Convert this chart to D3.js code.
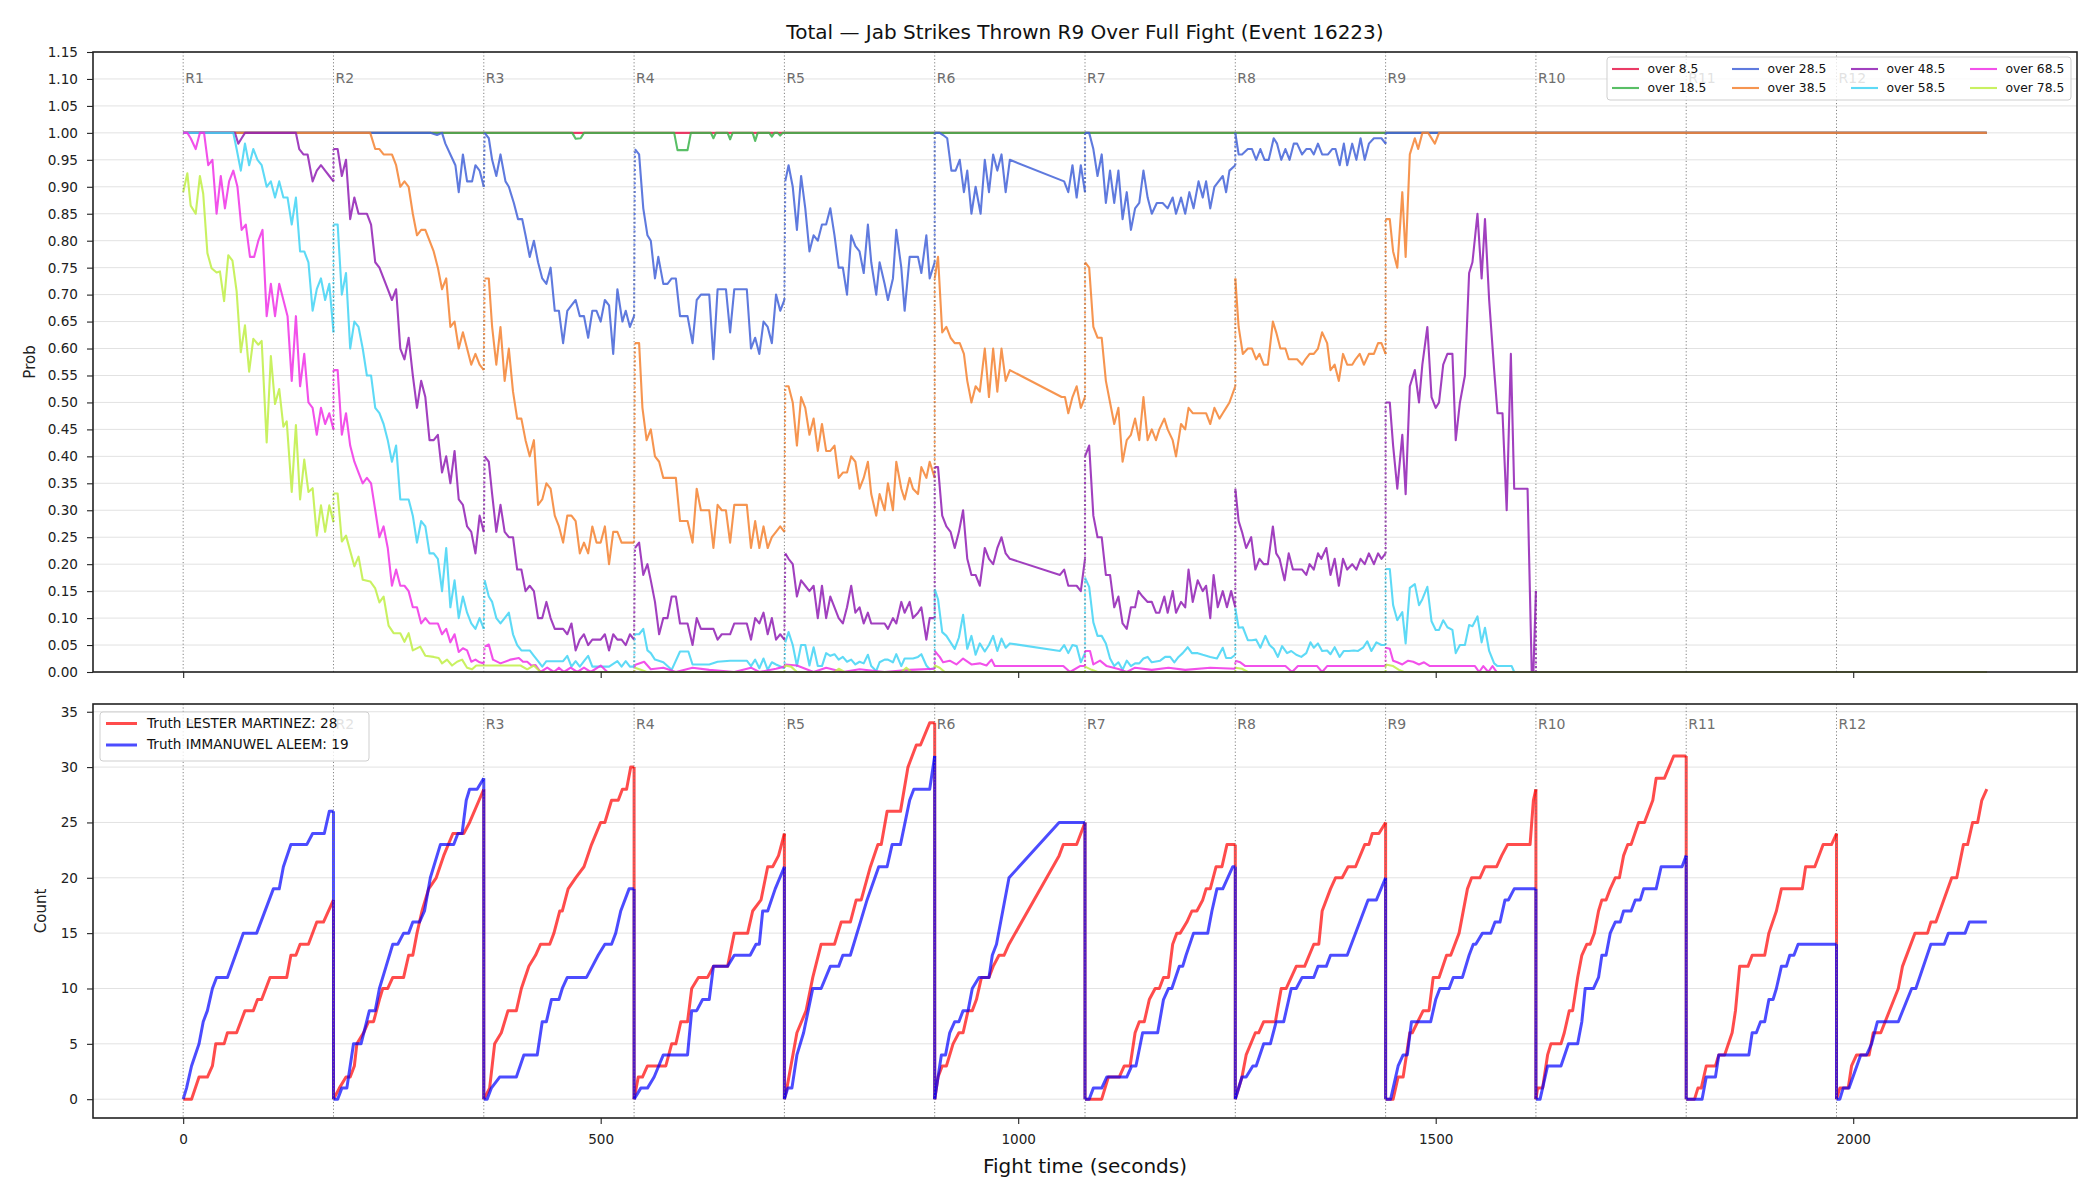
<!DOCTYPE html>
<html><head><meta charset="utf-8">
<script src="https://cdn.jsdelivr.net/npm/d3@7"></script>
<style>body{margin:0;background:#fff;} svg{display:block;font-family:"DejaVu Sans",sans-serif;}</style>
</head><body><svg id="chart" width="2100" height="1200"></svg>
<script>
// ---------------- DATA ----------------
const chartTitle = "Total \u2014 Jab Strikes Thrown R9 Over Full Fight (Event 16223)";
const roundLabels = ["R1","R2","R3","R4","R5","R6","R7","R8","R9","R10","R11","R12"];
const roundStarts = [0,180,360,540,720,900,1080,1260,1440,1620,1800,1980];
const xTicks = [0,500,1000,1500,2000];
const probTicks = [0,0.05,0.10,0.15,0.20,0.25,0.30,0.35,0.40,0.45,0.50,0.55,0.60,0.65,0.70,0.75,0.80,0.85,0.90,0.95,1.00,1.05,1.10,1.15];
const countTicks = [0,5,10,15,20,25,30,35];
const seriesNames = ["over 8.5","over 18.5","over 28.5","over 38.5","over 48.5","over 58.5","over 68.5","over 78.5"];
const seriesColors = ["#e6194b","#3cb44b","#4363d8","#f58231","#911eb4","#42d4f4","#f032e6","#bfef45"];

const over8_5 = [[0,1],[2160,1]];
const over18_5 = [[0,1],[466,1],[470,0.989],[476,0.99],[480,1],[588,1],[592,0.968],[604,0.968],[608,1],[632,1],[635,0.99],[638,1],[652,1],[655,0.988],[658,1],[682,1],[685,0.985],[688,1],[702,1],[705,0.993],[708,1],[712,1],[715,0.995],[718,1],[2160,1]];
const over28_5 = [[0,1],[296,1],[304,0.996],[310,1],[314,0.98],[320,0.96],[326,0.94],[330,0.89],[335,0.96],[340,0.91],[346,0.91],[350,0.94],[355,0.93],[360,0.9],
[361,1],[366,0.99],[370,0.95],[375,0.92],[380,0.96],[386,0.91],[390,0.9],[396,0.87],[401,0.84],[406,0.84],[410,0.81],[415,0.77],[420,0.8],[425,0.76],[430,0.73],[435,0.72],[440,0.75],[445,0.67],[450,0.67],[455,0.61],[460,0.67],[465,0.68],[470,0.69],[475,0.66],[480,0.66],[485,0.62],[490,0.67],[495,0.67],[500,0.65],[505,0.69],[510,0.68],[515,0.59],[520,0.71],[526,0.65],[530,0.67],[535,0.64],[540,0.66],
[541,0.97],[546,0.96],[551,0.86],[556,0.81],[560,0.8],[565,0.73],[569,0.77],[575,0.72],[580,0.72],[585,0.73],[590,0.73],[595,0.66],[604,0.66],[610,0.61],[615,0.69],[620,0.7],[630,0.7],[635,0.58],[640,0.71],[645,0.71],[650,0.71],[655,0.63],[660,0.71],[675,0.71],[680,0.6],[685,0.62],[690,0.59],[695,0.65],[700,0.64],[705,0.61],[710,0.7],[715,0.67],[720,0.69],
[721,0.91],[725,0.94],[730,0.9],[735,0.82],[740,0.92],[745,0.86],[750,0.78],[755,0.81],[760,0.8],[765,0.83],[770,0.83],[775,0.86],[780,0.81],[785,0.75],[790,0.75],[795,0.7],[800,0.81],[805,0.79],[810,0.78],[815,0.74],[820,0.83],[824,0.76],[830,0.7],[834,0.76],[840,0.72],[844,0.69],[850,0.73],[854,0.82],[860,0.75],[864,0.67],[870,0.77],[874,0.77],[880,0.77],[884,0.74],[890,0.81],[894,0.73],[900,0.76],
[900,1],[906,1],[910,0.996],[915,0.99],[920,0.93],[925,0.93],[930,0.95],[935,0.89],[939,0.93],[944,0.85],[949,0.9],[955,0.85],[960,0.95],[965,0.89],[970,0.96],[975,0.93],[980,0.96],[985,0.89],[990,0.95],[1055,0.91],[1060,0.89],[1065,0.94],[1070,0.88],[1075,0.94],[1080,0.89],
[1080,1],[1085,1],[1090,0.97],[1095,0.92],[1100,0.96],[1105,0.87],[1110,0.93],[1115,0.87],[1120,0.93],[1125,0.84],[1130,0.89],[1135,0.82],[1140,0.86],[1145,0.87],[1150,0.93],[1155,0.88],[1160,0.85],[1166,0.87],[1173,0.87],[1179,0.86],[1185,0.88],[1189,0.85],[1195,0.88],[1200,0.85],[1205,0.89],[1210,0.86],[1216,0.91],[1221,0.88],[1225,0.91],[1230,0.86],[1235,0.9],[1245,0.92],[1249,0.89],[1253,0.93],[1260,0.94],
[1260,1],[1264,0.96],[1268,0.96],[1275,0.97],[1280,0.97],[1285,0.95],[1290,0.97],[1295,0.95],[1300,0.95],[1306,0.99],[1310,0.98],[1315,0.95],[1320,0.97],[1325,0.95],[1330,0.98],[1334,0.98],[1340,0.96],[1345,0.97],[1350,0.97],[1354,0.96],[1359,0.98],[1364,0.96],[1371,0.96],[1376,0.97],[1380,0.97],[1385,0.94],[1390,0.98],[1394,0.94],[1400,0.98],[1405,0.95],[1410,0.99],[1415,0.95],[1420,0.98],[1426,0.99],[1431,0.99],[1435,0.99],[1440,0.98],
[1440,1],[2160,1]];
const over38_5 = [[0,1],[224,1],[230,0.97],[235,0.97],[240,0.96],[245,0.96],[250,0.96],[255,0.94],[260,0.9],[265,0.91],[270,0.9],[275,0.85],[280,0.81],[285,0.82],[290,0.82],[295,0.8],[300,0.78],[305,0.75],[310,0.71],[315,0.73],[320,0.64],[325,0.65],[330,0.6],[335,0.63],[340,0.6],[345,0.57],[350,0.59],[355,0.57],[360,0.56],
[361,0.73],[366,0.73],[370,0.64],[375,0.57],[380,0.64],[385,0.54],[390,0.6],[395,0.52],[400,0.47],[405,0.47],[410,0.43],[415,0.4],[420,0.43],[425,0.31],[430,0.32],[435,0.35],[440,0.34],[445,0.29],[450,0.27],[455,0.24],[460,0.29],[465,0.29],[470,0.28],[475,0.22],[480,0.24],[485,0.22],[490,0.27],[495,0.24],[500,0.24],[505,0.27],[510,0.2],[515,0.26],[520,0.26],[525,0.24],[530,0.24],[535,0.24],[540,0.24],
[541,0.61],[546,0.61],[550,0.49],[555,0.43],[560,0.45],[565,0.4],[570,0.39],[575,0.36],[580,0.36],[585,0.36],[590,0.36],[595,0.28],[604,0.28],[610,0.24],[615,0.34],[620,0.3],[630,0.3],[635,0.23],[640,0.31],[645,0.3],[650,0.3],[655,0.24],[660,0.31],[675,0.31],[680,0.23],[685,0.28],[690,0.23],[695,0.27],[700,0.23],[705,0.25],[710,0.26],[715,0.27],[720,0.26],
[721,0.53],[725,0.53],[730,0.5],[735,0.42],[740,0.51],[745,0.49],[750,0.44],[755,0.47],[760,0.41],[765,0.46],[770,0.41],[775,0.41],[780,0.42],[785,0.36],[790,0.37],[795,0.37],[800,0.4],[805,0.39],[810,0.34],[815,0.36],[820,0.39],[824,0.33],[830,0.29],[834,0.33],[840,0.3],[844,0.35],[850,0.3],[854,0.39],[860,0.34],[864,0.32],[870,0.36],[874,0.34],[880,0.33],[884,0.38],[890,0.36],[894,0.39],[900,0.36],
[900,0.73],[904,0.77],[909,0.63],[914,0.64],[919,0.62],[924,0.61],[930,0.61],[935,0.59],[939,0.54],[944,0.5],[949,0.53],[954,0.52],[960,0.6],[965,0.51],[970,0.6],[975,0.52],[980,0.6],[985,0.54],[990,0.56],[1052,0.51],[1056,0.51],[1060,0.48],[1065,0.51],[1070,0.53],[1075,0.49],[1080,0.51],
[1080,0.76],[1085,0.75],[1090,0.64],[1095,0.62],[1100,0.62],[1105,0.54],[1110,0.5],[1115,0.46],[1120,0.49],[1125,0.39],[1130,0.43],[1135,0.44],[1140,0.47],[1145,0.43],[1150,0.51],[1155,0.43],[1160,0.45],[1165,0.43],[1169,0.45],[1175,0.47],[1179,0.45],[1185,0.43],[1189,0.4],[1195,0.46],[1200,0.45],[1204,0.49],[1209,0.48],[1215,0.48],[1225,0.48],[1230,0.46],[1235,0.49],[1241,0.47],[1245,0.48],[1249,0.49],[1253,0.5],[1260,0.53],
[1260,0.73],[1264,0.64],[1269,0.59],[1275,0.6],[1280,0.6],[1285,0.58],[1289,0.59],[1294,0.57],[1299,0.57],[1305,0.65],[1309,0.63],[1314,0.6],[1320,0.6],[1324,0.58],[1329,0.58],[1334,0.58],[1340,0.57],[1344,0.58],[1349,0.59],[1354,0.59],[1359,0.6],[1364,0.63],[1370,0.61],[1374,0.56],[1379,0.57],[1384,0.54],[1389,0.59],[1394,0.57],[1400,0.57],[1404,0.58],[1409,0.59],[1414,0.57],[1420,0.59],[1426,0.59],[1431,0.61],[1435,0.61],[1440,0.59],
[1440,0.84],[1445,0.84],[1449,0.78],[1454,0.75],[1460,0.89],[1464,0.77],[1469,0.96],[1475,0.99],[1479,0.97],[1484,1],[1491,1],[1499,0.98],[1504,1],[2160,1]];
const over48_5 = [[0,1],[62,1],[66,0.98],[70,0.99],[74,1],[135,1],[139,0.97],[144,0.96],[149,0.96],[155,0.91],[160,0.93],[165,0.94],[170,0.93],[175,0.92],[180,0.91],
[180,0.97],[185,0.97],[190,0.92],[195,0.95],[200,0.84],[205,0.88],[210,0.85],[215,0.85],[220,0.85],[225,0.83],[230,0.76],[235,0.75],[240,0.73],[245,0.71],[250,0.69],[255,0.71],[260,0.6],[265,0.58],[270,0.62],[275,0.55],[280,0.49],[285,0.54],[290,0.51],[295,0.43],[300,0.43],[305,0.44],[310,0.37],[315,0.4],[320,0.35],[325,0.41],[330,0.32],[335,0.31],[340,0.27],[345,0.26],[350,0.22],[355,0.29],[360,0.26],
[361,0.4],[366,0.39],[370,0.33],[375,0.26],[380,0.31],[385,0.26],[390,0.25],[395,0.25],[400,0.19],[405,0.19],[410,0.15],[415,0.16],[420,0.15],[425,0.1],[430,0.1],[435,0.13],[440,0.1],[445,0.08],[450,0.08],[455,0.08],[460,0.07],[465,0.09],[470,0.04],[475,0.06],[480,0.07],[485,0.05],[490,0.06],[500,0.06],[505,0.07],[510,0.04],[515,0.07],[520,0.06],[525,0.06],[530,0.05],[535,0.07],[540,0.06],
[541,0.23],[546,0.24],[551,0.18],[556,0.2],[560,0.17],[565,0.13],[570,0.07],[575,0.1],[580,0.1],[585,0.14],[590,0.14],[595,0.09],[604,0.09],[610,0.05],[615,0.1],[620,0.08],[635,0.08],[640,0.06],[645,0.07],[655,0.07],[660,0.09],[675,0.09],[680,0.06],[685,0.1],[690,0.09],[695,0.11],[700,0.07],[705,0.1],[710,0.06],[715,0.07],[720,0.06],
[721,0.22],[725,0.21],[730,0.2],[735,0.14],[740,0.17],[745,0.16],[750,0.15],[755,0.16],[760,0.1],[765,0.16],[770,0.1],[775,0.14],[780,0.12],[785,0.1],[790,0.09],[795,0.12],[800,0.16],[805,0.11],[810,0.12],[815,0.09],[820,0.11],[824,0.09],[830,0.09],[834,0.09],[840,0.09],[844,0.08],[850,0.1],[854,0.09],[860,0.13],[864,0.11],[870,0.13],[874,0.1],[880,0.11],[884,0.12],[890,0.06],[894,0.1],[900,0.1],
[900,0.38],[904,0.38],[909,0.29],[914,0.27],[919,0.26],[924,0.23],[929,0.26],[934,0.3],[939,0.21],[944,0.18],[949,0.18],[954,0.16],[960,0.23],[965,0.21],[970,0.2],[975,0.23],[980,0.25],[985,0.22],[990,0.21],[1050,0.18],[1055,0.19],[1060,0.16],[1065,0.16],[1070,0.16],[1075,0.15],[1080,0.21],
[1080,0.4],[1085,0.42],[1090,0.29],[1095,0.25],[1100,0.25],[1105,0.18],[1110,0.18],[1115,0.12],[1120,0.14],[1125,0.09],[1130,0.08],[1135,0.12],[1140,0.12],[1144,0.15],[1149,0.14],[1155,0.13],[1160,0.13],[1165,0.11],[1169,0.11],[1175,0.14],[1179,0.11],[1185,0.15],[1189,0.11],[1195,0.13],[1200,0.12],[1204,0.19],[1209,0.13],[1215,0.17],[1221,0.15],[1225,0.16],[1230,0.1],[1234,0.18],[1239,0.12],[1245,0.15],[1250,0.12],[1255,0.15],[1260,0.12],
[1260,0.34],[1264,0.28],[1268,0.26],[1273,0.23],[1279,0.25],[1284,0.19],[1289,0.21],[1294,0.2],[1299,0.2],[1305,0.27],[1309,0.22],[1313,0.21],[1319,0.17],[1324,0.22],[1329,0.19],[1334,0.19],[1340,0.19],[1345,0.18],[1349,0.2],[1354,0.19],[1359,0.22],[1363,0.21],[1369,0.23],[1374,0.18],[1379,0.21],[1384,0.16],[1389,0.21],[1394,0.19],[1400,0.2],[1405,0.19],[1410,0.21],[1415,0.2],[1420,0.22],[1426,0.2],[1431,0.22],[1435,0.21],[1440,0.22],
[1440,0.5],[1445,0.5],[1449,0.42],[1454,0.34],[1460,0.44],[1464,0.33],[1469,0.53],[1475,0.56],[1480,0.5],[1484,0.57],[1490,0.64],[1495,0.51],[1500,0.49],[1504,0.5],[1509,0.57],[1514,0.59],[1520,0.59],[1524,0.43],[1529,0.5],[1535,0.55],[1540,0.74],[1544,0.76],[1550,0.85],[1555,0.73],[1559,0.84],[1564,0.69],[1570,0.56],[1574,0.48],[1580,0.48],[1585,0.3],[1590,0.59],[1594,0.34],[1610,0.34],[1615,0],[1617,0],[1620,0.15],[1620,0],[2160,0]];
const over58_5 = [[0,1],[60,1],[64,0.97],[69,0.93],[74,0.98],[79,0.94],[84,0.97],[89,0.95],[94,0.94],[100,0.9],[105,0.91],[110,0.88],[115,0.91],[120,0.88],[125,0.88],[130,0.83],[135,0.88],[140,0.78],[145,0.78],[150,0.76],[155,0.67],[160,0.71],[165,0.73],[170,0.69],[175,0.72],[180,0.63],
[180,0.83],[185,0.83],[190,0.7],[195,0.74],[200,0.6],[205,0.65],[210,0.64],[215,0.6],[220,0.55],[225,0.55],[230,0.49],[235,0.48],[240,0.46],[245,0.43],[250,0.39],[255,0.42],[260,0.32],[265,0.32],[270,0.32],[275,0.29],[280,0.24],[285,0.28],[290,0.27],[295,0.22],[300,0.22],[305,0.21],[310,0.15],[315,0.23],[320,0.12],[325,0.17],[330,0.1],[335,0.14],[340,0.11],[345,0.09],[350,0.08],[355,0.1],[360,0.08],
[361,0.17],[366,0.14],[370,0.13],[375,0.1],[380,0.09],[385,0.1],[390,0.11],[395,0.07],[400,0.05],[405,0.04],[410,0.04],[415,0.04],[420,0.03],[425,0.02],[430,0.01],[435,0.02],[440,0.02],[445,0.02],[450,0.02],[455,0.02],[460,0.03],[465,0.01],[470,0.02],[475,0.01],[480,0.02],[485,0.03],[490,0.01],[505,0.01],[510,0.01],[520,0.02],[525,0.01],[530,0.02],[535,0.01],[540,0.01],
[541,0.07],[546,0.07],[551,0.08],[556,0.04],[560,0.035],[565,0.023],[575,0.018],[585,0.004],[595,0.038],[605,0.038],[610,0.014],[630,0.014],[640,0.019],[655,0.021],[675,0.021],[680,0.011],[685,0.023],[690,0.007],[695,0.025],[700,0.004],[705,0.018],[710,0.014],[720,0.007],
[721,0.055],[725,0.074],[730,0.05],[735,0.011],[740,0.05],[745,0.05],[750,0.012],[755,0.046],[760,0.011],[765,0.011],[770,0.035],[775,0.03],[780,0.033],[785,0.023],[790,0.028],[795,0.019],[800,0.023],[805,0.014],[810,0.019],[815,0.016],[820,0.032],[824,0.011],[830,0.002],[834,0.018],[840,0.023],[844,0.023],[850,0.018],[854,0.033],[860,0.011],[864,0.025],[874,0.025],[880,0.028],[884,0.033],[890,0.012],[894,0.005],[900,0.007],
[900,0.154],[904,0.135],[909,0.074],[914,0.067],[919,0.055],[924,0.043],[929,0.064],[934,0.106],[939,0.043],[944,0.067],[949,0.032],[954,0.053],[960,0.038],[965,0.05],[970,0.067],[975,0.039],[980,0.062],[985,0.045],[990,0.053],[1050,0.039],[1055,0.05],[1060,0.035],[1065,0.05],[1070,0.048],[1075,0.018],[1080,0.035],
[1080,0.175],[1085,0.158],[1090,0.092],[1095,0.067],[1100,0.067],[1105,0.053],[1110,0.025],[1115,0.011],[1120,0.018],[1125,0.004],[1130,0.021],[1135,0.011],[1140,0.016],[1145,0.016],[1150,0.025],[1155,0.028],[1160,0.018],[1170,0.021],[1176,0.028],[1182,0.028],[1187,0.018],[1192,0.028],[1197,0.035],[1203,0.046],[1208,0.035],[1215,0.035],[1221,0.032],[1230,0.028],[1238,0.025],[1245,0.045],[1249,0.026],[1255,0.026],[1260,0.032],
[1260,0.118],[1264,0.082],[1269,0.083],[1275,0.059],[1280,0.059],[1285,0.06],[1290,0.045],[1296,0.067],[1301,0.05],[1306,0.043],[1311,0.028],[1316,0.048],[1322,0.035],[1327,0.039],[1333,0.032],[1339,0.028],[1345,0.035],[1350,0.055],[1354,0.045],[1359,0.053],[1364,0.039],[1370,0.04],[1374,0.033],[1379,0.046],[1385,0.028],[1390,0.039],[1396,0.039],[1402,0.04],[1407,0.039],[1413,0.045],[1418,0.057],[1423,0.039],[1429,0.055],[1435,0.05],[1440,0.05],
[1440,0.191],[1445,0.191],[1449,0.124],[1454,0.096],[1460,0.111],[1464,0.053],[1469,0.156],[1475,0.163],[1480,0.124],[1484,0.135],[1490,0.158],[1495,0.094],[1500,0.078],[1504,0.078],[1509,0.096],[1514,0.083],[1520,0.078],[1524,0.035],[1529,0.05],[1535,0.05],[1540,0.087],[1544,0.085],[1550,0.103],[1555,0.055],[1559,0.082],[1564,0.039],[1570,0.016],[1574,0.011],[1591,0.011],[1594,0],[2160,0]];
const over68_5 = [[0,1],[5,1],[9,0.99],[15,0.97],[20,1],[25,1],[30,0.94],[35,0.95],[40,0.85],[45,0.92],[50,0.86],[55,0.91],[60,0.93],[65,0.9],[70,0.82],[75,0.83],[80,0.77],[85,0.77],[90,0.8],[95,0.82],[100,0.66],[105,0.72],[110,0.66],[115,0.72],[120,0.69],[125,0.66],[130,0.54],[135,0.66],[140,0.53],[145,0.59],[150,0.5],[155,0.49],[160,0.44],[165,0.49],[170,0.46],[175,0.48],[180,0.45],
[180,0.56],[185,0.56],[190,0.44],[195,0.48],[200,0.42],[205,0.39],[210,0.37],[215,0.35],[220,0.36],[225,0.35],[230,0.3],[235,0.25],[240,0.27],[245,0.23],[250,0.16],[255,0.19],[260,0.16],[265,0.16],[270,0.15],[275,0.12],[280,0.12],[285,0.09],[290,0.1],[295,0.09],[305,0.09],[310,0.07],[315,0.08],[320,0.055],[325,0.07],[330,0.037],[335,0.044],[340,0.04],[345,0.019],[350,0.023],[355,0.018],[360,0.016],
[361,0.047],[366,0.051],[371,0.023],[380,0.016],[392,0.023],[402,0.026],[407,0.019],[412,0.019],[417,0.012],[422,0.013],[428,0],[436,0.008],[444,0],[450,0.008],[456,0],[464,0.008],[472,0],[480,0.008],[488,0],[500,0.012],[508,0],[540,0],
[541,0.013],[552,0.019],[560,0.005],[575,0.008],[590,0],[610,0.008],[630,0.004],[660,0],[680,0.008],[690,0],[710,0.006],[720,0.01],
[721,0.014],[735,0.012],[755,0],[770,0.008],[790,0],[810,0.005],[840,0],[870,0.004],[900,0.006],
[900,0.039],[906,0.028],[910,0.018],[918,0.021],[926,0.014],[934,0.025],[944,0.014],[954,0.016],[962,0.012],[968,0.023],[972,0.011],[1054,0.011],[1062,0],[1074,0.011],[1080,0.011],
[1080,0.039],[1086,0.039],[1090,0.014],[1098,0.021],[1106,0.011],[1121,0.005],[1130,0],[1140,0.008],[1160,0.004],[1180,0.008],[1200,0.004],[1230,0.008],[1260,0.006],
[1260,0.021],[1266,0.018],[1272,0.011],[1320,0.011],[1328,0],[1335,0.011],[1358,0.011],[1364,0],[1370,0.011],[1440,0.011],
[1440,0.045],[1445,0.043],[1449,0.021],[1454,0.018],[1460,0.014],[1467,0.021],[1473,0.019],[1480,0.014],[1486,0.018],[1493,0.011],[1547,0.011],[1552,0],[1557,0.011],[1563,0],[1568,0.011],[1573,0],[2160,0]];
const over78_5 = [[0,0.89],[5,0.925],[9,0.865],[15,0.85],[20,0.92],[24,0.887],[29,0.777],[34,0.749],[40,0.741],[44,0.743],[49,0.688],[54,0.773],[59,0.763],[64,0.706],[69,0.593],[74,0.643],[79,0.557],[84,0.618],[90,0.607],[94,0.614],[100,0.426],[105,0.586],[110,0.497],[115,0.525],[120,0.455],[124,0.465],[130,0.334],[135,0.458],[140,0.32],[145,0.394],[150,0.334],[155,0.341],[160,0.253],[165,0.309],[170,0.26],[175,0.309],[180,0.278],
[180,0.331],[185,0.331],[190,0.242],[195,0.253],[205,0.196],[210,0.214],[215,0.171],[224,0.168],[230,0.155],[235,0.129],[240,0.14],[246,0.086],[252,0.072],[260,0.072],[265,0.056],[270,0.072],[275,0.04],[284,0.047],[290,0.03],[300,0.028],[306,0.026],[310,0.016],[316,0.023],[322,0.012],[328,0.019],[334,0.023],[340,0.008],[346,0.005],[351,0.012],[360,0.012],
[404,0.012],[412,0.005],[420,0.012],[428,0],[540,0],[541,0.008],[548,0.004],[555,0],[720,0],[721,0.012],[728,0.01],[735,0],[780,0],[785,0.006],[792,0],[860,0],[866,0.008],[872,0],[900,0],[900,0.012],[906,0.008],[912,0],[1080,0],[1080,0.01],[1088,0.004],[1095,0],[1260,0],[1260,0.008],[1268,0.006],[1275,0],[1440,0],[1440,0.014],[1449,0.011],[1456,0.004],[1462,0],[2160,0]];
const probSeries = [over8_5, over18_5, over28_5, over38_5, over48_5, over58_5, over68_5, over78_5];

const truthNames = ["Truth LESTER MARTINEZ: 28","Truth IMMANUWEL ALEEM: 19"];
const truthColors = ["#ff0000","#0000ff"];
const truthMartinez = [[0,0],[10,0],[19,2],[29,2],[35,3],[39,5],[49,5],[53,6],[64,6],[74,8],[84,8],[89,9],[94,9],[104,11],[124,11],[129,13],[135,13],[140,14],[150,14],[160,16],[168,16],[180,18],
[180,0],[187,1],[195,2],[200,2],[205,3],[208,5],[216,6],[222,7],[228,7],[235,9],[239,10],[245,10],[251,11],[264,11],[270,13],[275,13],[280,15],[286,17],[294,19],[303,20],[312,22],[323,24],[336,24],[343,25],[360,28],
[360,0],[367,1],[373,5],[381,6],[389,8],[399,8],[405,10],[414,12],[422,13],[428,14],[439,14],[444,15],[451,17],[454,17],[461,19],[470,20],[480,21],[489,23],[500,25],[505,25],[513,27],[521,27],[526,28],[531,28],[536,30],[540,30],
[540,0],[545,2],[550,2],[556,3],[578,3],[585,5],[590,5],[596,7],[604,7],[609,10],[617,11],[628,11],[635,12],[652,12],[660,15],[676,15],[682,17],[692,18],[700,21],[706,21],[713,22],[720,24],
[720,0],[723,1],[735,6],[746,8],[754,11],[764,14],[780,14],[788,16],[799,16],[806,18],[812,18],[823,21],[832,23],[836,23],[843,26],[859,26],[868,30],[878,32],[883,32],[894,34],[900,34],
[900,0],[904,2],[909,3],[914,3],[922,5],[929,6],[934,6],[940,8],[945,8],[950,9],[956,11],[965,11],[970,12],[977,13],[983,13],[989,14],[1049,22],[1054,23],[1070,23],[1080,25],
[1080,0],[1100,0],[1108,2],[1121,2],[1127,3],[1134,3],[1140,6],[1145,7],[1151,7],[1157,9],[1164,10],[1169,10],[1174,11],[1180,11],[1185,14],[1190,15],[1194,15],[1202,16],[1208,17],[1214,17],[1221,18],[1225,19],[1230,19],[1237,21],[1244,21],[1250,23],[1260,23],
[1260,0],[1268,2],[1273,4],[1284,6],[1288,6],[1294,7],[1308,7],[1315,10],[1321,10],[1333,12],[1343,12],[1354,14],[1360,14],[1364,17],[1374,19],[1380,20],[1388,20],[1395,21],[1404,21],[1415,23],[1420,23],[1424,24],[1432,24],[1440,25],
[1440,0],[1449,0],[1455,2],[1461,2],[1469,6],[1472,6],[1485,8],[1492,8],[1497,11],[1504,11],[1513,13],[1518,13],[1528,15],[1538,19],[1543,20],[1553,20],[1559,21],[1573,21],[1579,22],[1586,23],[1613,23],[1617,27],[1620,28],
[1620,0],[1622,1],[1628,1],[1634,4],[1638,5],[1650,5],[1654,6],[1660,8],[1664,8],[1670,11],[1675,13],[1681,14],[1685,14],[1690,15],[1695,17],[1699,18],[1704,18],[1709,19],[1715,20],[1720,20],[1725,22],[1730,23],[1734,23],[1743,25],[1750,25],[1760,27],[1764,29],[1774,29],[1785,31],[1800,31],
[1800,0],[1810,0],[1814,1],[1818,1],[1824,3],[1835,3],[1839,4],[1846,4],[1855,6],[1859,8],[1864,12],[1874,12],[1879,13],[1894,13],[1899,15],[1908,17],[1914,19],[1939,19],[1943,21],[1954,21],[1964,23],[1974,23],[1980,24],
[1980,0],[1984,1],[1994,1],[1998,3],[2004,4],[2019,4],[2024,6],[2033,6],[2054,10],[2059,12],[2074,15],[2089,15],[2093,16],[2099,16],[2118,20],[2124,20],[2132,23],[2137,23],[2143,25],[2149,25],[2154,27],[2160,28]];
const truthAleem = [[0,0],[4,1],[10,3],[19,5],[24,7],[29,8],[35,10],[40,11],[53,11],[72,15],[88,15],[108,19],[115,19],[120,21],[129,23],[148,23],[155,24],[169,24],[175,26],[180,26],
[180,0],[185,0],[190,1],[196,1],[204,5],[213,5],[223,8],[230,8],[235,10],[243,12],[251,14],[257,14],[264,15],[270,15],[275,16],[283,16],[289,17],[296,20],[308,23],[324,23],[329,24],[334,24],[339,27],[343,28],[352,28],[360,29],
[360,0],[364,0],[369,1],[379,2],[399,2],[408,4],[424,4],[430,7],[435,7],[441,9],[450,9],[454,10],[460,11],[483,11],[490,12],[497,13],[505,14],[513,14],[518,15],[524,17],[534,19],[540,19],
[540,0],[548,1],[556,1],[564,2],[575,4],[604,4],[609,8],[615,8],[622,9],[630,9],[635,12],[652,12],[660,13],[679,13],[686,14],[690,14],[694,17],[700,17],[709,19],[720,21],
[720,0],[724,1],[729,1],[735,4],[743,6],[754,10],[764,10],[775,12],[785,12],[790,13],[799,13],[811,16],[819,18],[833,21],[843,21],[849,23],[859,23],[870,27],[875,28],[894,28],[900,31],
[900,0],[904,2],[908,4],[913,4],[918,6],[924,7],[929,7],[934,8],[940,8],[945,10],[953,11],[965,11],[969,13],[974,14],[989,20],[1049,25],[1080,25],
[1080,0],[1085,0],[1090,1],[1100,1],[1106,2],[1130,2],[1136,3],[1141,3],[1149,6],[1167,6],[1174,9],[1180,10],[1184,10],[1193,12],[1197,12],[1201,13],[1210,15],[1227,15],[1232,17],[1238,19],[1245,19],[1257,21],[1260,21],
[1260,0],[1268,2],[1273,2],[1281,3],[1285,3],[1294,5],[1302,5],[1309,7],[1318,7],[1324,9],[1327,10],[1333,10],[1340,11],[1354,11],[1359,12],[1369,12],[1374,13],[1394,13],[1419,18],[1429,18],[1440,20],
[1440,0],[1446,0],[1455,3],[1461,4],[1466,4],[1471,7],[1494,7],[1500,9],[1505,10],[1516,10],[1521,11],[1532,11],[1540,13],[1545,14],[1548,14],[1556,15],[1566,15],[1571,16],[1577,16],[1583,18],[1587,18],[1594,19],[1620,19],
[1620,0],[1625,0],[1634,3],[1650,3],[1659,5],[1670,5],[1675,7],[1679,10],[1689,10],[1695,11],[1699,13],[1704,13],[1709,15],[1715,16],[1721,16],[1725,17],[1734,17],[1739,18],[1745,18],[1749,19],[1764,19],[1770,21],[1795,21],[1800,22],
[1800,0],[1819,0],[1824,2],[1835,2],[1839,4],[1875,4],[1879,6],[1884,6],[1889,7],[1894,7],[1899,9],[1904,9],[1908,10],[1914,12],[1920,12],[1924,13],[1929,13],[1934,14],[1980,14],
[1980,0],[1984,0],[1988,1],[1995,1],[2009,4],[2016,4],[2022,5],[2029,7],[2054,7],[2070,10],[2075,10],[2093,14],[2109,14],[2114,15],[2134,15],[2139,16],[2160,16]];
const truthSeries = [truthMartinez, truthAleem];

// ---------------- LAYOUT ----------------
const svg = d3.select("#chart");
const L = 93, R = 2077;
const topT = 52, topB = 672, botT = 704, botB = 1118;
const x = d3.scaleLinear().domain([-108, 2268]).range([L, R]);
const yP = d3.scaleLinear().domain([0, 1.15]).range([topB, topT]);
const yC = d3.scaleLinear().domain([-1.7, 35.7]).range([botB, botT]);
const ink = "#222";

svg.append("rect").attr("width", 2100).attr("height", 1200).attr("fill", "#fff");

svg.append("text").attr("x", (L + R) / 2).attr("y", 33).attr("text-anchor", "middle")
  .attr("dominant-baseline", "middle").attr("font-size", 20).attr("fill", "#111").text(chartTitle);

function makePanel(yScale, yTicks, fmt, pTop, pBottom, showXLabels) {
  const g = svg.append("g");
  g.selectAll(".grid").data(yTicks).enter().append("line")
    .attr("x1", L).attr("x2", R).attr("y1", d => yScale(d)).attr("y2", d => yScale(d))
    .attr("stroke", "#e2e2e2").attr("stroke-width", 1);
  const clipId = "clip" + pTop;
  svg.append("clipPath").attr("id", clipId).append("rect")
    .attr("x", L).attr("y", pTop - 2).attr("width", R - L).attr("height", pBottom - pTop + 4);
  const data = g.append("g").attr("clip-path", `url(#${clipId})`);
  const ya = g.append("g").attr("transform", `translate(${L},0)`)
    .call(d3.axisLeft(yScale).tickValues(yTicks).tickFormat(fmt).tickSize(6).tickPadding(9));
  ya.select(".domain").remove();
  ya.selectAll("line").attr("stroke", ink).attr("stroke-width", 1.1);
  ya.selectAll("text").attr("font-size", 13.6).attr("fill", ink).attr("font-family", "DejaVu Sans");
  const xa = g.append("g").attr("transform", `translate(0,${pBottom})`)
    .call(d3.axisBottom(x).tickValues(xTicks).tickSize(6).tickPadding(10).tickFormat(showXLabels ? d3.format("d") : () => ""));
  xa.select(".domain").remove();
  xa.selectAll("line").attr("stroke", ink).attr("stroke-width", 1.1);
  xa.selectAll("text").attr("font-size", 13.6).attr("fill", ink).attr("font-family", "DejaVu Sans");
  return {g, data};
}

const probPanel = makePanel(yP, probTicks, d3.format(".2f"), topT, topB, false);
const countPanel = makePanel(yC, countTicks, d3.format("d"), botT, botB, true);

// split a series into within-round runs and round-change connectors
function splitRuns(s) {
  const runs = [], conns = [];
  let cur = [s[0]];
  for (let i = 1; i < s.length; i++) {
    const a = s[i - 1], b = s[i];
    const isConn = (b[0] - a[0]) <= 1.5 && roundStarts.some(B => B > 0 && a[0] <= B && b[0] >= B) && a[1] !== b[1];
    if (isConn) { runs.push(cur); conns.push([a, b]); cur = [b]; }
    else cur.push(b);
  }
  runs.push(cur);
  return {runs, conns};
}

function drawSeries(g, s, line, color, width, opacity, connDash) {
  const {runs, conns} = splitRuns(s);
  runs.forEach(r => g.append("path").datum(r).attr("d", line).attr("fill", "none")
    .attr("stroke", color).attr("stroke-width", width).attr("stroke-opacity", opacity)
    .attr("stroke-linejoin", "round"));
  conns.forEach(c => g.append("path").datum(c).attr("d", line).attr("fill", "none")
    .attr("stroke", color).attr("stroke-width", width).attr("stroke-opacity", opacity)
    .attr("stroke-dasharray", connDash));
}

const lineP = d3.line().x(d => x(d[0])).y(d => yP(d[1]));
probSeries.forEach((s, i) => drawSeries(probPanel.data, s, lineP, seriesColors[i], 2.1, 0.85, "2,2.4"));
const lineC = d3.line().x(d => x(d[0])).y(d => yC(d[1]));
truthSeries.forEach((s, i) => drawSeries(countPanel.data, s, lineC, truthColors[i], 3, 0.7, null));

function drawRounds(g, yScale, pTop, pBottom, labelY) {
  g.selectAll(".rl").data(roundStarts).enter().append("line")
    .attr("x1", d => x(d)).attr("x2", d => x(d)).attr("y1", pTop).attr("y2", pBottom)
    .attr("stroke", "#777").attr("stroke-width", 1).attr("stroke-dasharray", "1.2,2.2").attr("opacity", 0.9);
  g.selectAll(".rt").data(roundStarts).enter().append("text")
    .attr("x", d => x(d) + 2).attr("y", yScale(labelY)).attr("dominant-baseline", "middle")
    .attr("font-size", 14).attr("fill", "#6e6e6e").text((d, i) => roundLabels[i]);
}
drawRounds(probPanel.g, yP, topT, topB, 1.10);
drawRounds(countPanel.g, yC, botT, botB, 33.8);

[[topT, topB], [botT, botB]].forEach(([t, b]) => {
  svg.append("rect").attr("x", L).attr("y", t).attr("width", R - L).attr("height", b - t)
    .attr("fill", "none").attr("stroke", ink).attr("stroke-width", 1.6);
});

svg.append("text").attr("transform", `translate(30,${(topT + topB) / 2}) rotate(-90)`)
  .attr("text-anchor", "middle").attr("dominant-baseline", "middle").attr("font-size", 15).attr("fill", ink).text("Prob");
svg.append("text").attr("transform", `translate(41,${(botT + botB) / 2}) rotate(-90)`)
  .attr("text-anchor", "middle").attr("dominant-baseline", "middle").attr("font-size", 15).attr("fill", ink).text("Count");
svg.append("text").attr("x", (L + R) / 2).attr("y", 1167).attr("text-anchor", "middle")
  .attr("dominant-baseline", "middle").attr("font-size", 20).attr("fill", "#111").text("Fight time (seconds)");

const lg = svg.append("g");
lg.append("rect").attr("x", 1607).attr("y", 57).attr("width", 464).attr("height", 43).attr("rx", 3)
  .attr("fill", "#fff").attr("fill-opacity", 0.8).attr("stroke", "#cfcfcf").attr("stroke-width", 1);
const colX = [1612, 1732, 1851, 1970], rowY = [69, 88];
seriesNames.forEach((n, i) => {
  const cx = colX[Math.floor(i / 2)], cy = rowY[i % 2];
  lg.append("line").attr("x1", cx).attr("x2", cx + 27).attr("y1", cy).attr("y2", cy)
    .attr("stroke", seriesColors[i]).attr("stroke-width", 2.1).attr("stroke-opacity", 0.85);
  lg.append("text").attr("x", cx + 35.5).attr("y", cy).attr("dominant-baseline", "middle")
    .attr("font-size", 12.3).attr("fill", "#111").text(n);
});

const lb = svg.append("g");
lb.append("rect").attr("x", 100).attr("y", 712).attr("width", 269).attr("height", 49).attr("rx", 3)
  .attr("fill", "#fff").attr("fill-opacity", 0.8).attr("stroke", "#cfcfcf").attr("stroke-width", 1);
truthNames.forEach((n, i) => {
  const cy = [723.5, 745][i];
  lb.append("line").attr("x1", 106).attr("x2", 137).attr("y1", cy).attr("y2", cy)
    .attr("stroke", truthColors[i]).attr("stroke-width", 3).attr("stroke-opacity", 0.7);
  lb.append("text").attr("x", 147).attr("y", cy).attr("dominant-baseline", "middle")
    .attr("font-size", 13.6).attr("fill", "#111").text(n);
});
</script>
</body></html>
